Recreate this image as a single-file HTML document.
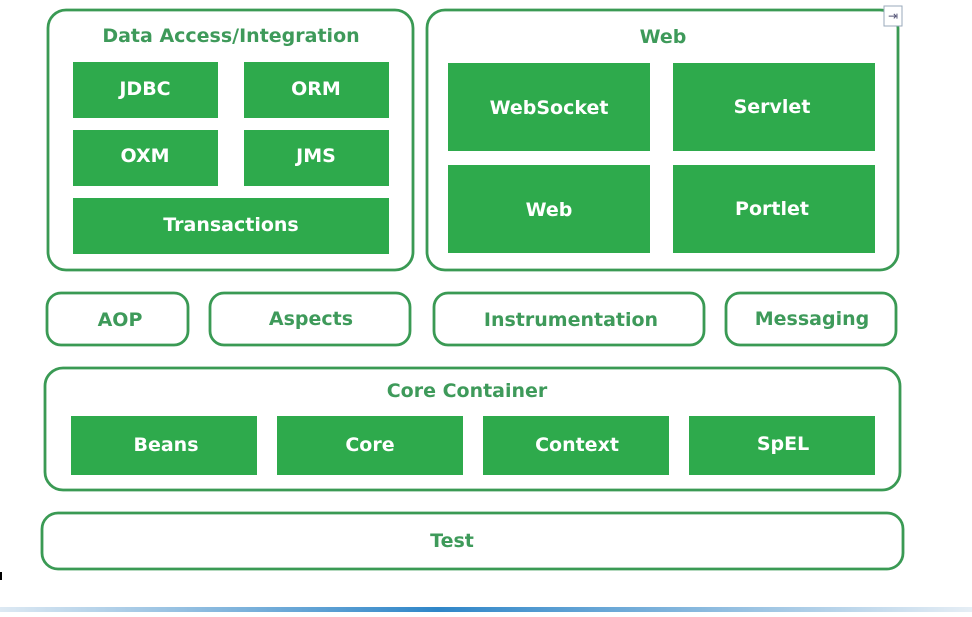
<!DOCTYPE html>
<html><head><style>
body{margin:0;background:#fff;width:972px;height:612px;overflow:hidden}
svg text{font-family:"DejaVu Sans","Liberation Sans",sans-serif;font-weight:bold;text-anchor:middle;dominant-baseline:central}
</style></head><body>
<svg width="972" height="612" viewBox="0 0 972 612">
<defs><linearGradient id="g" x1="0" x2="1"><stop offset="0" stop-color="#dde9f3"/><stop offset="0.45" stop-color="#2f86c8"/><stop offset="1" stop-color="#e6eef5"/></linearGradient></defs>
<g fill="none" stroke="#3a9a54" stroke-width="2.8">
<rect x="48" y="10" width="365" height="260" rx="18"/>
<rect x="427" y="10" width="471" height="260" rx="18"/>
<rect x="47" y="293" width="141" height="52" rx="14"/>
<rect x="210" y="293" width="200" height="52" rx="14"/>
<rect x="434" y="293" width="270" height="52" rx="14"/>
<rect x="726" y="293" width="170" height="52" rx="14"/>
<rect x="45" y="368" width="855" height="122" rx="18"/>
<rect x="42" y="513" width="861" height="56" rx="16"/>
</g>
<g fill="#2eaa4c">
<rect x="73" y="62" width="145" height="56"/><rect x="244" y="62" width="145" height="56"/>
<rect x="73" y="130" width="145" height="56"/><rect x="244" y="130" width="145" height="56"/>
<rect x="73" y="198" width="316" height="56"/>
<rect x="448" y="63" width="202" height="88"/><rect x="673" y="63" width="202" height="88"/>
<rect x="448" y="165" width="202" height="88"/><rect x="673" y="165" width="202" height="88"/>
<rect x="71" y="416" width="186" height="59"/><rect x="277" y="416" width="186" height="59"/>
<rect x="483" y="416" width="186" height="59"/><rect x="689" y="416" width="186" height="59"/>
</g>
<g fill="#fff" font-size="19">
<text x="145" y="89">JDBC</text><text x="316" y="89">ORM</text>
<text x="145" y="156">OXM</text><text x="316" y="156">JMS</text>
<text x="231" y="225">Transactions</text>
<text x="549" y="108">WebSocket</text><text x="772" y="107">Servlet</text>
<text x="549" y="210">Web</text><text x="772" y="209">Portlet</text>
<text x="166" y="445">Beans</text><text x="370" y="445">Core</text>
<text x="577" y="445">Context</text><text x="783" y="444">SpEL</text>
</g>
<g fill="#3e9a5a" font-size="19">
<text x="231" y="36">Data Access/Integration</text>
<text x="663" y="37">Web</text>
<text x="120" y="320">AOP</text><text x="311" y="319">Aspects</text>
<text x="571" y="320">Instrumentation</text><text x="812" y="319">Messaging</text>
<text x="467" y="391">Core Container</text>
<text x="452" y="541">Test</text>
</g>
<rect x="884" y="6" width="18" height="20" fill="#fff" stroke="#9ab" stroke-width="1"/>
<text x="893" y="16" font-size="12" fill="#557" style="font-weight:normal">⇥</text>
<rect x="0" y="572" width="2" height="8" fill="#000"/>
<rect x="0" y="607" width="972" height="5" fill="url(#g)"/>
</svg>
</body></html>
